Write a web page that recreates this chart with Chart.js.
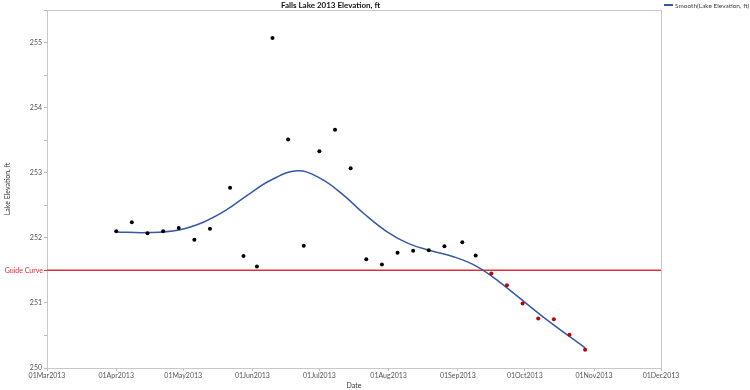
<!DOCTYPE html>
<html>
<head>
<meta charset="utf-8">
<title>Falls Lake 2013 Elevation</title>
<script src="https://cdn.jsdelivr.net/npm/chart.js@4.4.0/dist/chart.umd.min.js"></script>
<style>
  body { margin: 0; background: #fff; }
  canvas { display: block; }
</style>
</head>
<body>
<canvas id="lakeChart" width="750" height="390"></canvas>
<script>
// days counted from 01Mar2013
const monthDays = [0, 31, 61, 92, 122, 153, 184, 214, 245, 275];
const monthLabels = ['01Mar2013', '01Apr2013', '01May2013', '01Jun2013', '01Jul2013',
                     '01Aug2013', '01Sep2013', '01Oct2013', '01Nov2013', '01Dec2013'];

// weekly lake readings (ft)
const obsDays = [31, 38, 45, 52, 59, 66, 73, 82, 88, 94, 101, 108, 115, 122, 129, 136,
                 143, 150, 157, 164, 171, 178, 186, 192, 199, 206, 213, 220, 227, 234, 241];
const obsLevels = [252.10, 252.24, 252.07, 252.10, 252.15, 251.97, 252.14, 252.77, 251.72, 251.56,
                   255.07, 253.51, 251.88, 253.33, 253.66, 253.07, 251.67, 251.59, 251.77, 251.80,
                   251.81, 251.87, 251.93, 251.73, 251.45, 251.27, 250.99, 250.76, 250.75, 250.51, 250.28];

// smoothed curve
const smoothDays = [31, 45, 59, 70, 80, 90, 100, 112, 122, 132, 142, 152, 162, 172, 182, 192,
                    202, 222, 241];
const smoothLevels = [252.09, 252.08, 252.12, 252.24, 252.42, 252.66, 252.88, 253.03, 252.92, 252.68,
                      252.37, 252.10, 251.91, 251.80, 251.71, 251.57, 251.34, 250.79, 250.31];

const guideLevel = 251.5;

const FONT = 'Lato, "Open Sans", sans-serif';

const obsPoints = obsDays.map((d, i) => ({ x: d, y: obsLevels[i] }));
const smoothPoints = smoothDays.map((d, i) => ({ x: d, y: smoothLevels[i] }));
const guidePoints = [
    { x: monthDays[0], y: guideLevel },
    { x: monthDays[monthDays.length - 1], y: guideLevel }
];

// frame, title, legend and guide label
const decorPlugin = {
    id: 'decor',
    afterDraw(chart) {
        const ctx = chart.ctx;
        const area = chart.chartArea;
        const yScale = chart.scales.y;
        ctx.save();

        // top and right frame lines
        ctx.strokeStyle = '#c8c8c8';
        ctx.lineWidth = 1;
        ctx.beginPath();
        ctx.moveTo(area.left, area.top + 0.5);
        ctx.lineTo(area.right + 0.5, area.top + 0.5);
        ctx.lineTo(area.right + 0.5, area.bottom);
        ctx.stroke();

        // title
        ctx.fillStyle = '#111';
        ctx.font = 'bold 8px ' + FONT;
        ctx.textAlign = 'center';
        ctx.textBaseline = 'middle';
        ctx.fillText('Falls Lake 2013 Elevation, ft', area.right / 2, 5);

        // legend
        ctx.strokeStyle = '#3558a8';
        ctx.lineWidth = 2;
        ctx.beginPath();
        ctx.moveTo(664, 5);
        ctx.lineTo(673, 5);
        ctx.stroke();
        ctx.fillStyle = '#444';
        ctx.font = '6.5px ' + FONT;
        ctx.textAlign = 'left';
        ctx.fillText('Smooth(Lake Elevation, ft)', 675, 5.5);

        // guide curve label
        const gy = yScale.getPixelForValue(guideLevel);
        ctx.fillStyle = '#d8303c';
        ctx.font = '7px ' + FONT;
        ctx.textAlign = 'right';
        ctx.fillText('Guide Curve', area.left - 4, gy + 0.5);
        ctx.strokeStyle = '#d8303c';
        ctx.lineWidth = 1;
        ctx.beginPath();
        ctx.moveTo(area.left - 3, gy);
        ctx.lineTo(area.left, gy);
        ctx.stroke();

        ctx.restore();
    }
};

new Chart(document.getElementById('lakeChart'), {
    type: 'scatter',
    data: {
        datasets: [
            {
                label: 'Lake Elevation, ft',
                data: obsPoints,
                pointRadius: 2,
                pointBorderWidth: 0,
                pointBackgroundColor: c => (c.raw && c.raw.y < guideLevel ? '#c00000' : '#000'),
                pointBorderColor: c => (c.raw && c.raw.y < guideLevel ? '#c00000' : '#000'),
                order: 0
            },
            {
                type: 'line',
                label: 'Smooth(Lake Elevation, ft)',
                data: smoothPoints,
                borderColor: '#3558a8',
                borderWidth: 1.5,
                pointRadius: 0,
                tension: 0.4,
                fill: false,
                order: 1
            },
            {
                type: 'line',
                label: 'Guide Curve',
                data: guidePoints,
                borderColor: '#d8303c',
                borderWidth: 1.5,
                pointRadius: 0,
                fill: false,
                order: 2
            }
        ]
    },
    options: {
        responsive: false,
        animation: false,
        layout: { padding: { left: 0, top: 10, right: 89, bottom: 0 } },
        plugins: {
            legend: { display: false },
            title: { display: false },
            tooltip: { enabled: false }
        },
        scales: {
            x: {
                type: 'linear',
                min: monthDays[0],
                max: monthDays[monthDays.length - 1],
                afterBuildTicks: scale => {
                    scale.ticks = monthDays.map(v => ({ value: v }));
                },
                afterFit: scale => { scale.height = 22; },
                ticks: {
                    autoSkip: false,
                    maxRotation: 0,
                    padding: 1,
                    color: '#555',
                    font: { family: FONT, size: 7 },
                    callback: (value) => {
                        const i = monthDays.indexOf(value);
                        return i >= 0 ? monthLabels[i] : '';
                    }
                },
                grid: { drawOnChartArea: false, tickLength: 3, tickColor: '#bbb' },
                border: { color: '#c8c8c8' },
                title: {
                    display: true,
                    text: 'Date',
                    color: '#333',
                    padding: 0,
                    font: { family: FONT, size: 7 }
                }
            },
            y: {
                min: 250,
                max: 255.5,
                afterFit: scale => { scale.width = 47; },
                ticks: {
                    stepSize: 0.5,
                    padding: 2,
                    color: '#555',
                    font: { family: FONT, size: 7 },
                    callback: v => (Number.isInteger(v) ? String(v) : '')
                },
                grid: { drawOnChartArea: false, tickLength: 3, tickColor: '#bbb' },
                border: { color: '#c8c8c8' },
                title: {
                    display: true,
                    text: 'Lake Elevation, ft',
                    color: '#333',
                    padding: { top: 4, bottom: 0 },
                    font: { family: FONT, size: 7 }
                }
            }
        }
    },
    plugins: [decorPlugin]
});
</script>
</body>
</html>
